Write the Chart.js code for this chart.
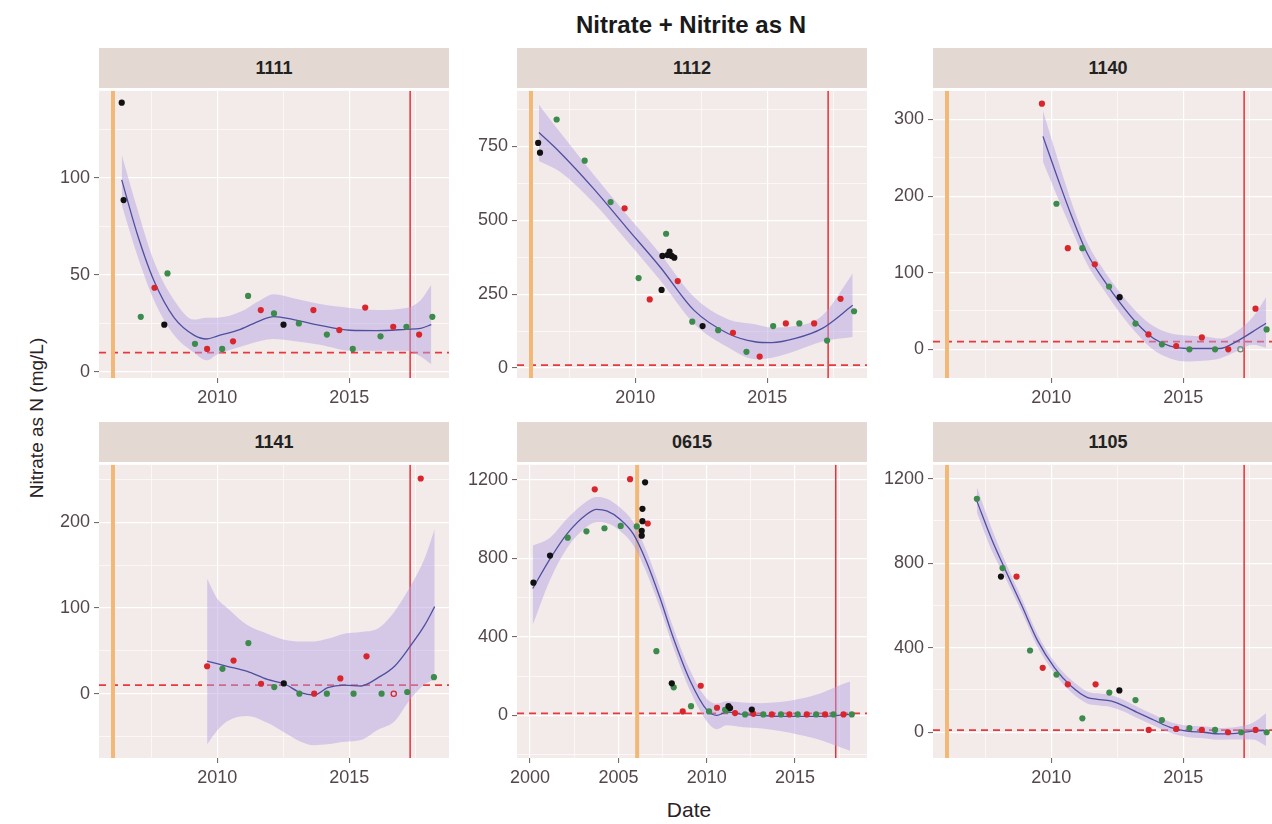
<!DOCTYPE html>
<html>
<head>
<meta charset="utf-8">
<script src="https://cdn.jsdelivr.net/npm/chart.js@4.4.1/dist/chart.umd.min.js"></script>
<style>
  body { margin: 0; width: 1272px; height: 824px; overflow: hidden; background: #fff; position: relative;
         font-family: "Liberation Sans", Arial, sans-serif; }
  .title { position: absolute; left: 491px; top: 13px; width: 400px; text-align: center;
           font-size: 24px; line-height: 24px; font-weight: bold; color: #1a1a1a; }
  .ylab { position: absolute; left: -163px; top: 406px; width: 400px; height: 24px; line-height: 24px;
          text-align: center; font-size: 19px; color: #2a2224; transform: rotate(-90deg); }
  .xlab { position: absolute; left: 589px; top: 799px; width: 200px; text-align: center;
          font-size: 21px; line-height: 21px; color: #2a2224; }
  .strip { position: absolute; background: #e3d8d2; text-align: center; font-weight: bold;
           font-size: 18px; color: #222; }
  .panel { position: absolute; }
</style>
</head>
<body>
<div class="title">Nitrate + Nitrite as N</div>
<div class="ylab">Nitrate as N (mg/L)</div>
<div class="xlab">Date</div>
<script>
// ---- facets ----
const panelNames = ['1111', '1112', '1140', '1141', '0615', '1105'];

// ---- sample points [year, mg/L] ----
const black1111 = [[2006.39, 138.8], [2006.46, 88.6], [2008.0, 24.4], [2012.51, 24.4]];
const red1111 = [[2007.63, 43.4], [2009.62, 11.9], [2010.60, 15.8], [2011.65, 31.9], [2013.64, 31.9],
                 [2014.62, 21.6], [2015.60, 33.2], [2016.66, 23.3], [2017.64, 19.3]];
const green1111 = [[2007.11, 28.4], [2008.12, 50.8], [2009.16, 14.5], [2010.19, 11.9], [2011.17, 39.2],
                   [2012.15, 30.2], [2013.09, 25.0], [2014.15, 19.3], [2015.13, 11.9], [2016.18, 18.4],
                   [2017.16, 23.3], [2018.14, 28.4]];

const black1112 = [[2006.33, 761], [2006.40, 728], [2011.0, 264], [2011.03, 379], [2011.22, 382],
                   [2011.30, 394], [2011.38, 379], [2011.48, 373], [2012.55, 142]];
const red1112 = [[2009.60, 540], [2010.55, 232], [2011.61, 294], [2013.70, 119], [2014.71, 39],
                 [2015.70, 151], [2016.77, 151], [2017.77, 234]];
const green1112 = [[2007.03, 840], [2008.09, 701], [2009.07, 561], [2010.13, 304], [2011.17, 454],
                   [2012.16, 157], [2013.14, 128], [2014.21, 55], [2015.22, 142], [2016.21, 151],
                   [2017.26, 93], [2018.28, 192]];

const black1140 = [[2012.59, 68]];
const red1140 = [[2009.65, 320.7], [2010.63, 132], [2011.65, 111], [2013.68, 19.4], [2014.73, 4.3],
                 [2015.70, 15.5], [2016.70, 0], [2017.73, 53]];
const green1140 = [[2010.20, 190], [2011.18, 132], [2012.19, 82], [2013.19, 33.6], [2014.19, 6.5],
                   [2015.23, 0], [2016.20, 0], [2018.15, 25.9]];
const open1140 = [[2017.16, 0]];

const black1141 = [[2012.52, 12]];
const red1141 = [[2009.62, 32], [2010.62, 38.6], [2011.66, 11.6], [2013.67, 0], [2014.66, 17.8],
                 [2015.65, 43.6], [2017.70, 251]];
const green1141 = [[2010.20, 29], [2011.18, 59], [2012.16, 7.7], [2013.11, 0], [2014.15, 0],
                   [2015.16, 0], [2016.22, 0], [2017.19, 2], [2018.20, 19.3]];
const open1141 = [[2016.68, 0]];

const black0615 = [[2000.19, 676], [2001.13, 814], [2006.32, 915], [2006.32, 940], [2006.36, 989],
                   [2006.36, 1052], [2006.51, 1187], [2008.02, 163], [2011.23, 47], [2011.32, 37],
                   [2012.55, 30]];
const red0615 = [[2003.66, 1151], [2005.66, 1203], [2006.66, 977], [2008.64, 20], [2009.66, 151],
                 [2010.58, 39], [2011.6, 12], [2012.64, 8], [2013.68, 5], [2014.68, 5], [2015.66, 5],
                 [2016.7, 5], [2017.74, 5]];
const green0615 = [[2002.13, 905], [2003.19, 937], [2004.21, 953], [2005.13, 965], [2006.04, 962],
                   [2007.15, 327], [2008.13, 143], [2009.11, 47], [2010.13, 20], [2011.04, 28.5],
                   [2011.13, 25], [2012.17, 5], [2013.2, 5], [2014.2, 5], [2015.15, 5], [2016.19, 5],
                   [2017.17, 5], [2018.21, 5]];

const black1105 = [[2008.10, 737], [2012.58, 198]];
const red1105 = [[2008.69, 737], [2009.68, 305], [2010.63, 227], [2011.68, 227], [2013.69, 11],
                 [2014.73, 15.6], [2015.70, 11], [2016.69, 0], [2017.73, 11]];
const green1105 = [[2007.19, 1105], [2008.16, 777], [2009.2, 387], [2010.2, 273], [2011.18, 66],
                   [2012.2, 187.5], [2013.19, 152], [2014.19, 58], [2015.23, 20], [2016.2, 11],
                   [2017.19, 0], [2018.15, 0]];

// ---- loess fit [year, fit, lower, upper] ----
const fit1111 = [[2006.39, 99, 86, 112], [2006.98, 71, 60, 84], [2007.61, 47, 37, 57], [2008.37, 28, 19, 37],
                 [2009.12, 19, 10, 27], [2009.6, 17, 6, 28], [2010.0, 18.5, 9, 28], [2010.88, 22, 13, 31],
                 [2011.63, 26.5, 16, 37], [2012.14, 28.5, 17, 40], [2012.89, 27, 16, 38], [2013.89, 24, 14, 35],
                 [2015.03, 21.5, 11, 33], [2016.03, 21.3, 11, 32], [2017.16, 22, 11, 33], [2017.7, 22.5, 8, 37],
                 [2018.10, 24.4, 4, 45]];
const fit1112 = [[2006.36, 796, 700, 890], [2007.13, 731, 665, 800], [2008.41, 608, 560, 656],
                 [2009.68, 474, 430, 518], [2010.96, 340, 295, 385], [2012.23, 195, 150, 240],
                 [2013.51, 117, 70, 165], [2014.53, 89, 30, 148], [2015.17, 86, 35, 137],
                 [2016.06, 100, 58, 142], [2017.08, 134, 90, 178], [2018.23, 212, 105, 320]];
const fit1140 = [[2009.69, 278, 245, 311], [2010.25, 223, 198, 248], [2010.75, 176, 158, 194],
                 [2011.38, 124, 110, 138], [2012.0, 90, 77, 103], [2012.63, 59.5, 46, 73],
                 [2013.25, 33.6, 20, 48], [2013.88, 14, -1, 30], [2014.5, 4, -12, 21], [2015.13, 1, -16, 18],
                 [2015.75, 1, -15, 17], [2016.38, 1, -12, 14], [2017.0, 10, -3, 23], [2017.63, 23, 6, 42],
                 [2018.13, 34, 2, 68]];
const fit1141 = [[2009.62, 38, -59, 134], [2010.0, 35, -43, 111], [2010.38, 32, -32, 100], [2011.14, 26, -26, 80],
                 [2011.9, 16.6, -34, 70], [2012.53, 11.6, -45, 63], [2013.16, 1.2, -56, 61],
                 [2013.67, -1.5, -60, 61], [2014.18, 7, -59, 64], [2014.81, 10, -56, 70], [2015.44, 9, -54, 72],
                 [2016.08, 18.5, -42, 76], [2016.71, 32, -32, 96], [2017.34, 57, -5, 127],
                 [2017.85, 80, 11, 158], [2018.23, 101.5, 17, 192]];
const fit0615 = [[2000.15, 646, 461, 864], [2001.13, 797, 690, 905], [2002.08, 923, 850, 1000],
                 [2003.21, 1024, 960, 1090], [2003.77, 1049, 985, 1112], [2004.34, 1041, 980, 1103],
                 [2005.09, 999, 940, 1058], [2005.85, 923, 865, 982], [2006.6, 780, 725, 835],
                 [2007.36, 596, 545, 648], [2008.11, 394, 345, 445], [2009.06, 176, 125, 228],
                 [2010.0, 28, -30, 85], [2010.57, 0, -70, 60], [2011.13, 17, -50, 72], [2012.08, 5, -60, 65],
                 [2013.02, 0, -65, 62], [2014.15, -5, -80, 68], [2015.28, -5, -100, 85],
                 [2016.42, -5, -125, 112], [2017.17, -2, -150, 140], [2018.11, 5, -180, 172]];
const fit1105 = [[2007.19, 1094, 1040, 1160], [2007.75, 914, 860, 965], [2008.25, 773, 735, 812],
                 [2008.88, 602, 570, 635], [2009.5, 430, 400, 460], [2010.13, 305, 278, 332],
                 [2010.75, 219, 190, 248], [2011.38, 164, 135, 192], [2011.75, 156, 128, 184],
                 [2012.25, 148, 120, 176], [2012.75, 125, 98, 152], [2013.25, 94, 67, 121],
                 [2013.88, 58, 32, 84], [2014.5, 23, -3, 49], [2015.13, 5, -22, 32], [2015.75, 0, -28, 28],
                 [2016.38, -8, -36, 20], [2017.0, -5, -35, 25], [2017.63, 5, -35, 45], [2018.13, 8, -65, 90]];

// ---- reference lines ----
const startYear = 2006.06;     // orange vertical line
const endYear = 2017.3;        // red vertical line
const limitValue = 10;         // dashed horizontal limit (mg/L)

// ---- axis ranges per facet ----
const xRanges = [[2005.53, 2018.77], [2005.53, 2018.77], [2005.53, 2018.77],
                 [2005.53, 2018.77], [1999.26, 2019.07], [2005.53, 2018.77]];
const yRanges = [[-3.1, 144.9], [-33.5, 937], [-37.5, 337.5], [-75, 267], [-217, 1276], [-122, 1266]];
const yMajorSteps = [50, 250, 100, 100, 400, 400];
const xMajorStep = 5;

const seriesByPanel = [
  { black: black1111, red: red1111, green: green1111, open: [], fit: fit1111 },
  { black: black1112, red: red1112, green: green1112, open: [], fit: fit1112 },
  { black: black1140, red: red1140, green: green1140, open: open1140, openColor: '#6f8f78', fit: fit1140 },
  { black: black1141, red: red1141, green: green1141, open: open1141, openColor: '#d9262c', fit: fit1141 },
  { black: black0615, red: red0615, green: green0615, open: [], fit: fit0615 },
  { black: black1105, red: red1105, green: green1105, open: [], fit: fit1105 }
];

// ---- layout ----
const colLeft = [99, 517, 933];
const plotW = 350;
const rowTop = [88, 462];
const plotH = [290, 296];
const stripH = 40;

const COL = {
  panel: '#f2ebe9', grid: '#ffffff', tick: '#6a5a5c', tickText: '#54474a',
  red: '#d9262c', green: '#3c8a4c', black: '#111111',
  smooth: '#4f4f9e', ribbon: 'rgba(180,160,228,0.48)',
  orange: '#f2b877', endLine: '#e2323a', limit: '#e8383f'
};

Chart.defaults.font.family = '"Liberation Sans", Arial, sans-serif';

const panelBg = {
  id: 'panelBg',
  beforeDraw(chart) {
    const { ctx, chartArea: a } = chart;
    ctx.save();
    ctx.fillStyle = COL.panel;
    ctx.fillRect(a.left, a.top, a.width, a.height);
    ctx.restore();
  }
};

function tickValues(min, max, step) {
  const out = [];
  for (let v = Math.ceil(min / step) * step; v <= max + 1e-9; v += step) {
    out.push(Math.round(v * 1000) / 1000);
  }
  return out;
}

function isMajor(v, step) {
  const r = v / step;
  return Math.abs(r - Math.round(r)) < 1e-6;
}

function toXY(list) {
  return list.map(r => ({ x: r[0], y: r[1] }));
}

function pointSet(list, color, open) {
  return {
    data: toXY(list),
    showLine: false,
    pointRadius: open ? 2.6 : 3.1,
    pointHoverRadius: 0,
    pointBackgroundColor: open ? 'rgba(0,0,0,0)' : color,
    pointBorderColor: color,
    pointBorderWidth: open ? 1.3 : 0,
    order: 0
  };
}

function lineSet(data, color, width, dash, order) {
  return {
    data: data,
    borderColor: color,
    borderWidth: width,
    borderDash: dash || [],
    pointRadius: 0,
    fill: false,
    order: order
  };
}

function axisScale(min, max, majorStep, isX) {
  const ticks = tickValues(min, max, majorStep / 2);
  return {
    type: 'linear',
    min: min,
    max: max,
    afterBuildTicks: s => { s.ticks = ticks.map(v => ({ value: v })); },
    afterFit: s => { if (isX) s.height = 40; else s.width = 50; },
    border: { display: false },
    grid: {
      color: COL.grid,
      lineWidth: ctx => isMajor(ctx.tick.value, majorStep) ? 1.2 : 0.6,
      tickLength: 5,
      tickColor: ctx => isMajor(ctx.tick.value, majorStep) ? COL.tick : 'rgba(0,0,0,0)',
      tickWidth: 1
    },
    ticks: {
      autoSkip: false,
      maxRotation: 0,
      padding: 4,
      color: COL.tickText,
      font: { size: 18 },
      callback: v => isMajor(v, majorStep) ? String(v) : ''
    }
  };
}

panelNames.forEach((name, i) => {
  const col = i % 3, row = Math.floor(i / 3);
  const L = colLeft[col], T = rowTop[row], W = plotW, H = plotH[row];
  const [xMin, xMax] = xRanges[i];
  const [yMin, yMax] = yRanges[i];
  const s = seriesByPanel[i];

  const strip = document.createElement('div');
  strip.className = 'strip';
  strip.style.left = L + 'px';
  strip.style.top = (T - stripH) + 'px';
  strip.style.width = W + 'px';
  strip.style.height = stripH + 'px';
  strip.style.lineHeight = stripH + 'px';
  strip.textContent = name;
  document.body.appendChild(strip);

  const wrap = document.createElement('div');
  wrap.className = 'panel';
  wrap.style.left = (L - 60) + 'px';
  wrap.style.top = (T - 12) + 'px';
  const canvas = document.createElement('canvas');
  canvas.width = W + 72;
  canvas.height = H + 12 + 40;
  wrap.appendChild(canvas);
  document.body.appendChild(wrap);

  const datasets = [
    pointSet(s.black, COL.black),
    pointSet(s.red, COL.red),
    pointSet(s.green, COL.green),
    pointSet(s.open, s.openColor || COL.red, true),
    Object.assign(lineSet(s.fit.map(r => ({ x: r[0], y: r[1] })), COL.smooth, 1.3, null, 1),
                  { cubicInterpolationMode: 'monotone' }),
    // ribbon upper, filled down to the lower band (next dataset)
    {
      data: s.fit.map(r => ({ x: r[0], y: r[3] })),
      borderColor: 'rgba(0,0,0,0)', borderWidth: 0, pointRadius: 0,
      cubicInterpolationMode: 'monotone',
      fill: '+1', backgroundColor: COL.ribbon, order: 2
    },
    {
      data: s.fit.map(r => ({ x: r[0], y: r[2] })),
      borderColor: 'rgba(0,0,0,0)', borderWidth: 0, pointRadius: 0,
      cubicInterpolationMode: 'monotone', fill: false, order: 2
    },
    lineSet([{ x: startYear, y: yMin }, { x: startYear, y: yMax }], COL.orange, 4, null, 3),
    lineSet([{ x: endYear, y: yMin }, { x: endYear, y: yMax }], COL.endLine, 1.5, null, 3),
    lineSet([{ x: xMin, y: limitValue }, { x: xMax, y: limitValue }], COL.limit, 1.7, [7, 5], 3)
  ];

  new Chart(canvas, {
    type: 'line',
    data: { datasets: datasets },
    options: {
      responsive: false,
      devicePixelRatio: 1,
      animation: false,
      layout: { padding: { left: 10, top: 12, right: 12, bottom: 0 } },
      plugins: { legend: { display: false }, tooltip: { enabled: false } },
      scales: {
        x: axisScale(xMin, xMax, xMajorStep, true),
        y: axisScale(yMin, yMax, yMajorSteps[i], false)
      }
    },
    plugins: [panelBg]
  });
});
</script>
</body>
</html>
